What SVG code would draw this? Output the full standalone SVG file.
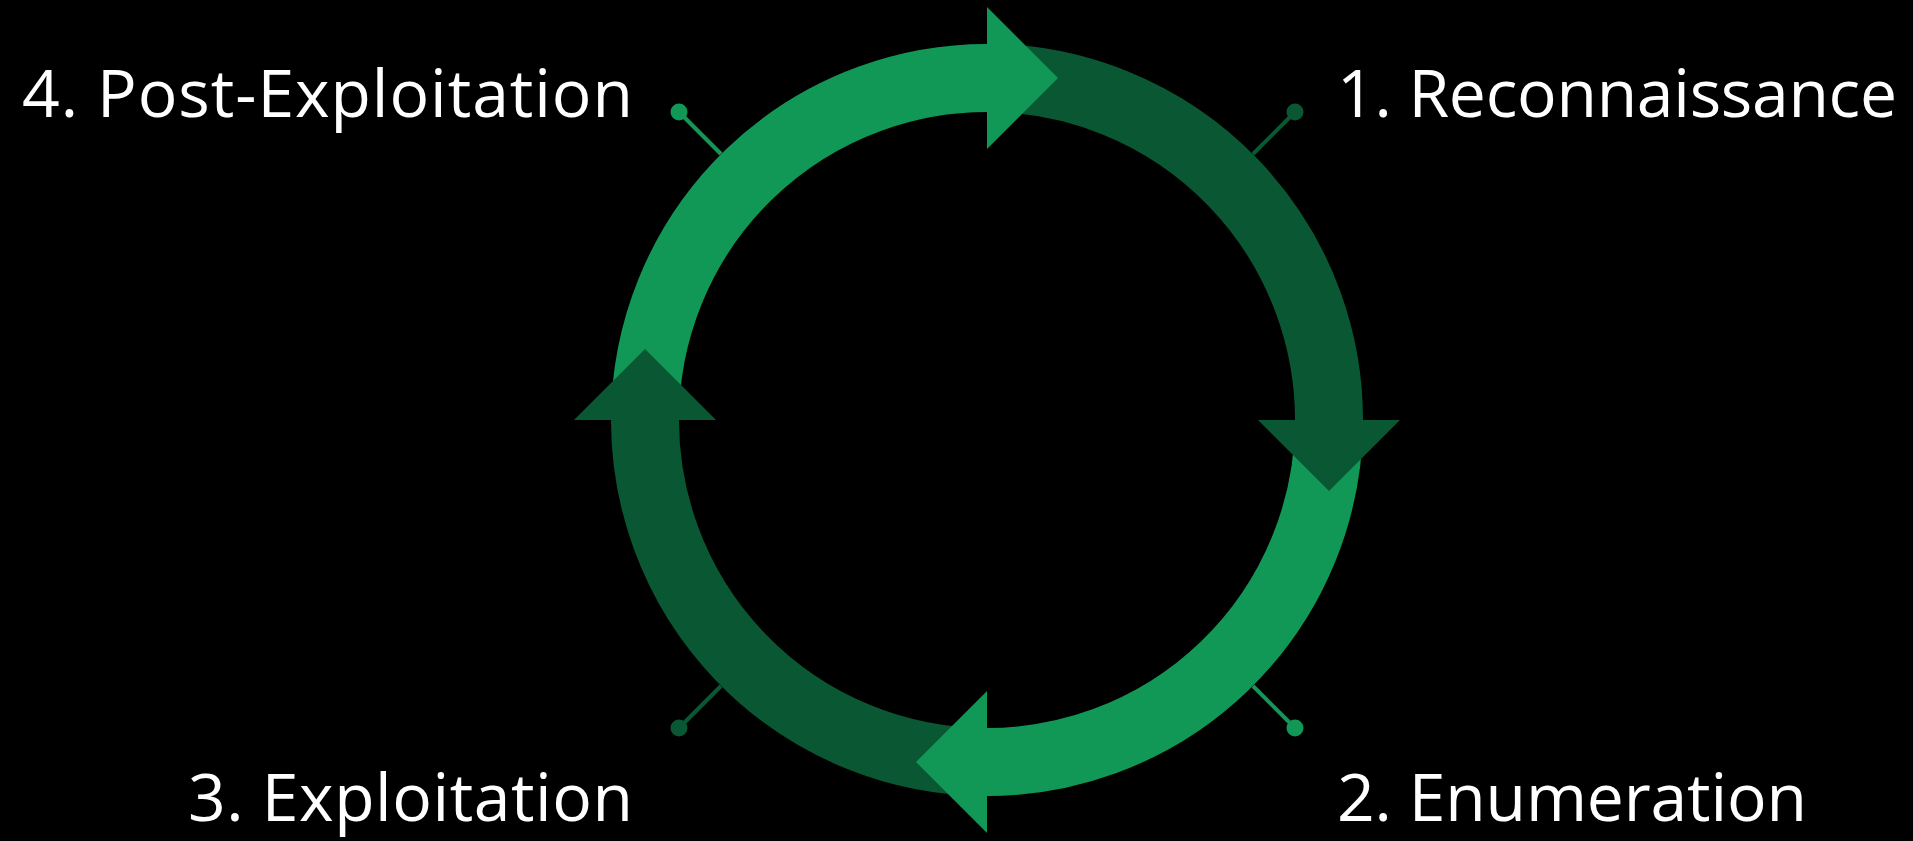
<svg xmlns="http://www.w3.org/2000/svg" width="1913" height="841" viewBox="0 0 1913 841">
  <style>
    .light { fill: none; stroke: #119856; stroke-width: 68; }
    .dark { fill: none; stroke: #0a5733; stroke-width: 68; }
    .lf { fill: #119856; }
    .df { fill: #0a5733; }
    .ll { stroke: #119856; stroke-width: 4; }
    .dl { stroke: #0a5733; stroke-width: 4; }
    .lbl { font-family: "Open Sans", "Noto Sans", sans-serif; font-size: 66px; fill: #ffffff; }
  </style>
  <rect x="0" y="0" width="1913" height="841" fill="#000000"/>
  <g id="connectors">
    <line class="ll" x1="721" y1="154" x2="679" y2="112"/>
    <circle class="lf" cx="679" cy="112" r="8.5"/>
    <line class="dl" x1="1253" y1="154" x2="1295" y2="112"/>
    <circle class="df" cx="1295" cy="112" r="8.5"/>
    <line class="dl" x1="721" y1="686" x2="679" y2="728"/>
    <circle class="df" cx="679" cy="728" r="8.5"/>
    <line class="ll" x1="1253" y1="686" x2="1295" y2="728"/>
    <circle class="lf" cx="1295" cy="728" r="8.5"/>
  </g>
  <g id="cycle">
    <path class="dark" d="M 987 78 A 342 342 0 0 1 1328.79 431.94"/>
    <path class="light" d="M 1329 420 A 342 342 0 0 1 975.06 761.79"/>
    <path class="dark" d="M 987 762 A 342 342 0 0 1 645.21 408.06"/>
    <path class="light" d="M 645 420 A 342 342 0 0 1 998.94 78.21"/>
    <polygon class="lf" points="987,7 987,149 1058,78"/>
    <polygon class="df" points="1258,420 1400,420 1329,491"/>
    <polygon class="lf" points="987,691 987,833 916,762"/>
    <polygon class="df" points="574,420 716,420 645,349"/>
  </g>
  <g id="node-recon">
    <text class="lbl" x="1337" y="117" textLength="560">1. Reconnaissance</text>
  </g>
  <g id="node-enum">
    <text class="lbl" x="1337" y="821" textLength="470">2. Enumeration</text>
  </g>
  <g id="node-exploit">
    <text class="lbl" x="188" y="821" textLength="445">3. Exploitation</text>
  </g>
  <g id="node-post">
    <text class="lbl" x="22" y="117" textLength="611">4. Post-Exploitation</text>
  </g>
</svg>
